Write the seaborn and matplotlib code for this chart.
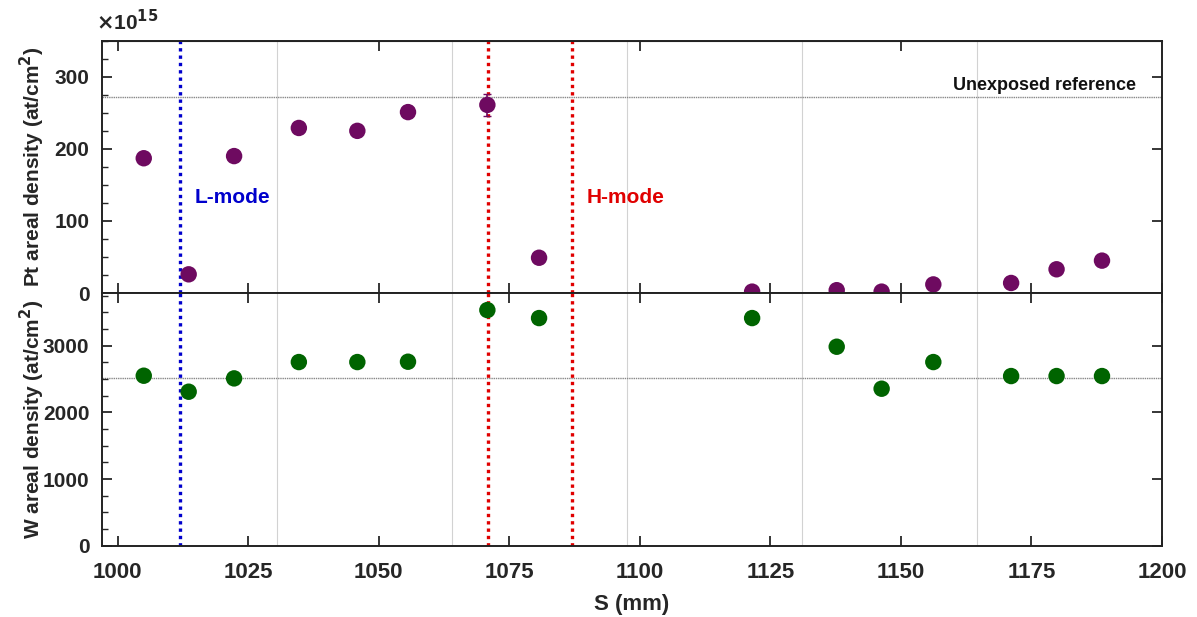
import numpy as np
import pandas as pd
import matplotlib
matplotlib.use("Agg")
import matplotlib.pyplot as plt
import seaborn as sns
from matplotlib.ticker import MultipleLocator

s_mm = [1005.0, 1013.6, 1022.3, 1034.7, 1045.9, 1055.6, 1070.8, 1080.7,
        1121.5, 1137.7, 1146.3, 1156.2, 1171.1, 1179.8, 1188.5]
pt_density = [187, 26, 190, 229, 225, 251, 261, 49,
              2, 4, 2, 12, 14, 33, 45]          # x1e15 at/cm2
pt_err = [0, 0, 0, 0, 0, 0, 15, 0, 0, 0, 0, 0, 0, 0, 0]
w_density = [2550, 2310, 2510, 2755, 2755, 2760, 3535, 3415,
             3415, 2985, 2355, 2755, 2545, 2545, 2545]
w_err = [0, 0, 0, 0, 0, 0, 70, 70, 70, 0, 0, 0, 0, 0, 0]

pt_reference = 272
w_reference = 2520
l_mode_s = [1012]
h_mode_s = [1071, 1087]
grid_s = [1030.5, 1064, 1097.6, 1131, 1164.5]

df = pd.DataFrame({"S": s_mm, "Pt": pt_density, "Pt_err": pt_err,
                   "W": w_density, "W_err": w_err})

sns.set_style("ticks")
plt.rcParams["font.family"] = ["Liberation Sans", "DejaVu Sans"]
plt.rcParams["font.weight"] = "bold"

purple = "#6e0a60"
green = "#006400"

fig = plt.figure(figsize=(11.97, 6.17), dpi=100)
ax1 = fig.add_axes([0.0852, 0.525, 0.8856, 0.409])
ax2 = fig.add_axes([0.0852, 0.1156, 0.8856, 0.4094], sharex=ax1)

for ax in (ax1, ax2):
    for g in grid_s:
        ax.axvline(g, color="#d2d2d2", lw=0.8, zorder=0)
    for x in l_mode_s:
        ax.axvline(x, color="#0000cc", lw=2.4, ls=(0, (1, 1.2)), zorder=1)
    for x in h_mode_s:
        ax.axvline(x, color="#e00000", lw=2.4, ls=(0, (1, 1.2)), zorder=1)

ax1.axhline(pt_reference, color="#888888", lw=1.0, ls=(0, (1, 0.6)), zorder=0)
ax2.axhline(w_reference, color="#888888", lw=1.0, ls=(0, (1, 0.6)), zorder=0)

ax1.errorbar(df["S"], df["Pt"], yerr=df["Pt_err"], fmt="none",
             ecolor=purple, elinewidth=1.2, capsize=3, zorder=2)
sns.scatterplot(data=df, x="S", y="Pt", ax=ax1, color=purple, s=140,
                edgecolor="none", zorder=3)
ax2.errorbar(df["S"], df["W"], yerr=df["W_err"], fmt="none",
             ecolor=green, elinewidth=1.2, capsize=3, zorder=2)
sns.scatterplot(data=df, x="S", y="W", ax=ax2, color=green, s=140,
                edgecolor="none", zorder=3)

ax1.set_xlim(997, 1200)
ax1.set_ylim(0, 350)
ax2.set_ylim(0, 3790)

ax1.yaxis.set_major_locator(MultipleLocator(100))
ax1.yaxis.set_minor_locator(MultipleLocator(25))
ax2.yaxis.set_major_locator(MultipleLocator(1000))
ax2.yaxis.set_minor_locator(MultipleLocator(250))
ax2.xaxis.set_major_locator(MultipleLocator(25))

for ax in (ax1, ax2):
    ax.tick_params(axis="both", which="major", direction="in", length=7,
                   width=1.3, labelsize=15, pad=9, right=True)
    ax.tick_params(axis="y", which="minor", direction="in", length=4,
                   width=1.0, left=True, right=False)
    ax.tick_params(axis="x", which="minor", bottom=False, top=False)
    for sp in ax.spines.values():
        sp.set_linewidth(1.4)
        sp.set_color("#222222")

ax2.tick_params(axis="x", top=True, labelsize=16, pad=12)
ax1.tick_params(axis="x", labelbottom=False, top=False)

# top border of the upper panel: ticks every 50 only
top = ax1.secondary_xaxis("top")
top.set_xticks([1000, 1050, 1100, 1150])
top.tick_params(direction="in", length=7, width=1.3, labeltop=False)

for lab in ax1.get_yticklabels() + ax2.get_yticklabels() + ax2.get_xticklabels():
    lab.set_fontweight("bold")

ax1.set_xlabel("")
ax2.set_xlabel("S (mm)", fontsize=16, fontweight="bold", labelpad=8)
ax1.set_ylabel("Pt areal density (at/cm$^{\\mathbf{2}}$)", fontsize=15,
               fontweight="bold")
ax2.set_ylabel("W areal density (at/cm$^{\\mathbf{2}}$)", fontsize=15,
               fontweight="bold")
ax1.yaxis.set_label_coords(-0.052, 0.5)
ax2.yaxis.set_label_coords(-0.052, 0.5)

ax1.text(1014.8, 132, "L-mode", color="#0000cc", fontsize=15,
         fontweight="bold", va="center", ha="left")
ax1.text(1089.8, 132, "H-mode", color="#e00000", fontsize=15,
         fontweight="bold", va="center", ha="left")
ax1.text(1195, 288, "Unexposed reference", color="#111111", fontsize=13,
         fontweight="bold", va="center", ha="right")
ax1.text(-0.006, 1.025, "$\\times$10$^{15}$", transform=ax1.transAxes,
         fontsize=15, fontweight="bold", ha="left", va="bottom")

fig.savefig("out.png", dpi=100)
